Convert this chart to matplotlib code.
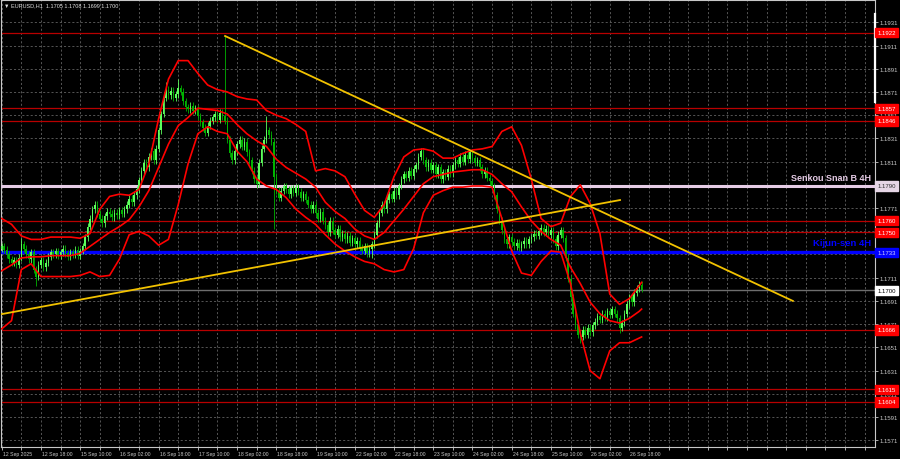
import numpy as np
import matplotlib.pyplot as plt
from matplotlib import transforms

# hourly closes, EURUSD H1, 12 Sep 02:00 .. 26 Sep 23:00
closes = [
    # 12 Sep
    1.1738, 1.1735, 1.1731, 1.1727, 1.1724, 1.1726, 1.1722, 1.1728, 1.1740, 1.1736, 1.1731,
    1.1727, 1.1733, 1.1718, 1.1712, 1.1722, 1.1726, 1.1720, 1.1724, 1.1729, 1.1733, 1.1731,
    # 15 Sep
    1.1734, 1.1730, 1.1733, 1.1736, 1.1732, 1.1729, 1.1733, 1.1731, 1.1735, 1.1730, 1.1734, 1.1738,
    1.1746, 1.1755, 1.1762, 1.1770, 1.1774, 1.1766, 1.1762, 1.1758, 1.1764, 1.1768, 1.1766, 1.1763,
    # 16 Sep
    1.1767, 1.1765, 1.1769, 1.1766, 1.1770, 1.1774, 1.1779, 1.1776, 1.1782, 1.1787, 1.1795, 1.1803,
    1.1810, 1.1806, 1.1815, 1.1820, 1.1812, 1.1822, 1.1838, 1.1852, 1.1866, 1.1873, 1.1868, 1.1872,
    # 17 Sep
    1.1866, 1.1869, 1.1874, 1.1871, 1.1863, 1.1858, 1.1856, 1.1859, 1.1855, 1.1857, 1.1850, 1.1845,
    1.1840, 1.1836, 1.1842, 1.1846, 1.1849, 1.1852, 1.1847, 1.1853, 1.1850, 1.1846, 1.1830, 1.1818,
    # 18 Sep
    1.1812, 1.1820, 1.1826, 1.1830, 1.1824, 1.1828, 1.1819, 1.1812, 1.1803, 1.1796, 1.1792, 1.1810,
    1.1822, 1.1830, 1.1838, 1.1834, 1.1828, 1.1798, 1.1786, 1.1780, 1.1786, 1.1790, 1.1787, 1.1783,
    # 19 Sep
    1.1788, 1.1784, 1.1789, 1.1785, 1.1780, 1.1783, 1.1778, 1.1774, 1.1770, 1.1774, 1.1767, 1.1762,
    1.1768, 1.1760, 1.1756, 1.1750, 1.1760, 1.1752, 1.1748, 1.1753, 1.1746, 1.1749, 1.1744, 1.1747,
    # 22 Sep
    1.1741, 1.1745, 1.1740, 1.1743, 1.1737, 1.1734, 1.1738, 1.1732, 1.1736, 1.1740, 1.1748, 1.1758,
    1.1767, 1.1774, 1.1770, 1.1778, 1.1783, 1.1779, 1.1786, 1.1782, 1.1790, 1.1796, 1.1800, 1.1797,
    # 23 Sep
    1.1803, 1.1799, 1.1805, 1.1808, 1.1815, 1.1820, 1.1812, 1.1806, 1.1810, 1.1804, 1.1808, 1.1800,
    1.1806, 1.1796, 1.1802, 1.1798, 1.1805, 1.1801, 1.1808, 1.1812, 1.1809, 1.1815, 1.1811, 1.1817,
    # 24 Sep
    1.1813, 1.1819, 1.1814, 1.1810, 1.1812, 1.1806, 1.1800, 1.1803, 1.1797, 1.1794, 1.1790, 1.1782,
    1.1770, 1.1760, 1.1752, 1.1744, 1.1740, 1.1746, 1.1742, 1.1738, 1.1741, 1.1737, 1.1740, 1.1743,
    # 25 Sep
    1.1740, 1.1744, 1.1746, 1.1749, 1.1747, 1.1751, 1.1754, 1.1750, 1.1753, 1.1748, 1.1752, 1.1744,
    1.1738, 1.1748, 1.1752, 1.1745, 1.1728, 1.1710, 1.1694, 1.1680, 1.1670, 1.1662, 1.1660, 1.1666,
    # 26 Sep
    1.1662, 1.1668, 1.1664, 1.1670, 1.1673, 1.1678, 1.1675, 1.1680, 1.1677, 1.1682, 1.1679, 1.1684,
    1.1680, 1.1676, 1.1668, 1.1672, 1.1680, 1.1688, 1.1694, 1.1690, 1.1698, 1.1702, 1.1705, 1.1700,
]
first_open = 1.1736
# long wicks seen on the chart
high_marks = {8: 1.1745, 67: 1.1880, 72: 1.1882, 91: 1.1920, 108: 1.1850,
              171: 1.1823, 191: 1.1821, 261: 1.1708}
low_marks = {14: 1.1704, 104: 1.1788, 111: 1.1753, 151: 1.1728, 236: 1.1655,
             252: 1.1663, 261: 1.1699}

# bollinger bands read every 4 bars (+ last bar)
bb_upper = [1.1762, 1.1757, 1.1747, 1.1744, 1.1744, 1.1746, 1.1746, 1.1746, 1.1745, 1.1749,
            1.1770, 1.1781, 1.1783, 1.1782, 1.1787, 1.1809, 1.1848, 1.1882, 1.1898, 1.1898,
            1.1887, 1.1877, 1.1873, 1.1871, 1.1867, 1.1865, 1.1864, 1.1855, 1.1851, 1.1848,
            1.1843, 1.1837, 1.1803, 1.1805, 1.1803, 1.1798, 1.1783, 1.1769, 1.1763, 1.1774,
            1.1798, 1.1815, 1.1821, 1.1822, 1.1820, 1.1814, 1.1814, 1.1818, 1.1821, 1.1822,
            1.1824, 1.1837, 1.1841, 1.1825, 1.1796, 1.1762, 1.1755, 1.1758, 1.1781, 1.1791,
            1.1775, 1.1749, 1.1697, 1.1688, 1.1693, 1.1704, 1.1707]
bb_middle = [1.1717, 1.1722, 1.1728, 1.1729, 1.1729, 1.1730, 1.1730, 1.1730, 1.1732, 1.1738,
             1.1744, 1.1750, 1.1755, 1.1761, 1.1772, 1.1786, 1.1806, 1.1826, 1.1842, 1.1849,
             1.1857, 1.1856, 1.1855, 1.1852, 1.1843, 1.1835, 1.1829, 1.1824, 1.1813, 1.1806,
             1.1801, 1.1796, 1.1789, 1.1776, 1.1768, 1.1762, 1.1753, 1.1747, 1.1744, 1.1750,
             1.1760, 1.1770, 1.1781, 1.1792, 1.1798, 1.1800, 1.1802, 1.1803, 1.1804, 1.1804,
             1.1800, 1.1792, 1.1785, 1.1772, 1.1760, 1.1751, 1.1744, 1.1739, 1.1720, 1.1706,
             1.1690, 1.1680, 1.1674, 1.1672, 1.1676, 1.1682, 1.1684]
bb_lower = [1.1667, 1.1674, 1.1718, 1.1723, 1.1712, 1.1712, 1.1712, 1.1712, 1.1713, 1.1716,
            1.1712, 1.1713, 1.1727, 1.1748, 1.1751, 1.1747, 1.1739, 1.1744, 1.1774, 1.1809,
            1.1835, 1.1841, 1.1837, 1.1835, 1.1820, 1.1811, 1.1796, 1.1790, 1.1787, 1.1780,
            1.1770, 1.1763, 1.1757, 1.1748, 1.1740, 1.1734, 1.1729, 1.1725, 1.1723, 1.1718,
            1.1716, 1.1718, 1.1736, 1.1767, 1.1782, 1.1786, 1.1789, 1.1789, 1.1790, 1.1790,
            1.1789, 1.1762, 1.1734, 1.1715, 1.1713, 1.1725, 1.1734, 1.1733, 1.1706, 1.1663,
            1.1631, 1.1624, 1.1648, 1.1655, 1.1655, 1.1659, 1.1660]

red_levels = [1.1922, 1.1857, 1.1846, 1.1760, 1.1750, 1.1666, 1.1615, 1.1604]
senkou_b = 1.1790
kijun = 1.1733
last_price = 1.1700

# trend lines: (bar, price) endpoints
down_line = [(91.1, 1.19192), (322.7, 1.16910)]
up_line = [(0.1, 1.16797), (252.2, 1.17779)]

time_labels = ['12 Sep 2025', '12 Sep 18:00', '15 Sep 10:00', '16 Sep 02:00', '16 Sep 18:00',
               '17 Sep 10:00', '18 Sep 02:00', '18 Sep 18:00', '19 Sep 10:00', '22 Sep 02:00',
               '22 Sep 18:00', '23 Sep 10:00', '24 Sep 02:00', '24 Sep 18:00', '25 Sep 10:00',
               '26 Sep 02:00', '26 Sep 18:00']

plt.rcParams['font.family'] = ['Liberation Sans', 'DejaVu Sans']

fig = plt.figure(figsize=(9, 4.6), dpi=100, facecolor='black')
ax = fig.add_axes([1/900, 12/460, 874/900, 447/460])
ax.set_facecolor('black')
ax.set_xlim(-0.29, 356.2)
ax.set_ylim(1.15652, 1.19502)

# grid
grid_prices = np.arange(1.1571, 1.1940, 0.0020)
for p in grid_prices:
    ax.axhline(p, color='#626262', lw=0.6, ls=(0, (2.5, 2.5)), zorder=1)
for v in range(0, 357, 8):
    ax.axvline(v, color='#626262', lw=0.6, ls=(0, (2.5, 2.5)), zorder=1)

# horizontal levels
for lv in red_levels:
    ax.axhline(lv, color='#b80000', lw=0.9, zorder=2)
ax.axhline(last_price, color='#6e6e6e', lw=1.0, zorder=2)
ax.axhline(senkou_b, color='#e6cce6', lw=2.2, zorder=3)
ax.axhline(kijun, color='#0000ff', lw=2.4, zorder=3)

# candles
n = len(closes)
idx = np.arange(n)
opens = [first_open] + closes[:-1]
highs = [max(o, c) + 0.0003 for o, c in zip(opens, closes)]
lows = [min(o, c) - 0.0003 for o, c in zip(opens, closes)]
for k, v in high_marks.items():
    highs[k] = v
for k, v in low_marks.items():
    lows[k] = v
colors = ['#5cff5c' if c >= o else '#00b400' for o, c in zip(opens, closes)]
bottoms = [min(o, c) for o, c in zip(opens, closes)]
heights = [max(abs(c - o), 0.00006) for o, c in zip(opens, closes)]
ax.vlines(idx, lows, highs, colors=colors, lw=0.6, zorder=4)
ax.bar(idx, heights, bottom=bottoms, width=0.62, color=colors, lw=0, zorder=4)

# bollinger bands
bb_x = np.r_[np.arange(0, n - 1, 4), n - 1]
for band in (bb_upper, bb_middle, bb_lower):
    ax.plot(bb_x, band, color='#ff0000', lw=1.2, zorder=5, solid_joinstyle='round')

# trend lines
for line in (down_line, up_line):
    xs, ys = zip(*line)
    ax.plot(xs, ys, color='#f2c200', lw=1.3, zorder=6)

# frame
for s in ax.spines.values():
    s.set_color('#c8c8c8')
    s.set_linewidth(0.8)

# price scale
ax.yaxis.tick_right()
boxed = red_levels + [senkou_b, kijun, last_price]
shown = [p for p in grid_prices if min(abs(p - b) for b in boxed) > 0.0003]
ax.set_yticks(shown)
ax.set_yticklabels([f'{p:.4f}' for p in shown])
ax.tick_params(axis='y', colors='#c8c8c8', labelsize=4.3, length=2, width=0.6, pad=1.5)

# time scale
ax.set_xticks(range(0, 357, 8))
xt = []
for k in range(0, 357, 8):
    j = k // 16
    xt.append(time_labels[j] if k % 16 == 0 and j < len(time_labels) else '')
ax.set_xticklabels(xt, ha='left')
ax.tick_params(axis='x', colors='#c8c8c8', labelsize=3.7, length=2, width=0.6, pad=0.8)
for lab in ax.get_xticklabels():
    lab.set_transform(lab.get_transform() + transforms.ScaledTranslation(1/100, 0, fig.dpi_scale_trans))

# level boxes on the price scale
blend = transforms.blended_transform_factory(ax.transAxes, ax.transData)
trans = blend + transforms.ScaledTranslation(2.5/100, 0, fig.dpi_scale_trans)
def price_box(p, fc, tc):
    ax.text(1.0, p, f'{p:.4f}', transform=trans, fontsize=4.3, color=tc, ha='left', va='center',
            clip_on=False, zorder=10,
            bbox=dict(boxstyle='square,pad=0.35', fc=fc, ec=fc))
for lv in red_levels:
    price_box(lv, '#ff0000', '#ffffff')
price_box(senkou_b, '#e6d6e6', '#303030')
price_box(kijun, '#0000ff', '#d0d0ff')
price_box(last_price, '#ffffff', '#000000')

# labels of the ichimoku lines
ax.text(0.995, senkou_b + 0.0007, 'Senkou Snan B 4H', transform=blend,
        ha='right', va='center', fontsize=6.5, fontweight='bold', color='#e6cce6', zorder=8)
ax.text(0.995, kijun + 0.0008, 'Kijun-sen 4H', transform=blend,
        ha='right', va='center', fontsize=6.8, fontweight='bold', color='#0000ff', zorder=8)

# chart shift marker on the right border
ax.plot([1.0, 1.0], [1.1938, 1.1862], transform=blend,
        color='white', lw=1.6, clip_on=False, zorder=9)

fig.text(4/900, 1 - 6/460, '\u25bc EURUSD,H1  1.1705 1.1708 1.1699 1.1700', color='#e0e0e0',
         fontsize=4, ha='left', va='center')

fig.savefig('out.png', dpi=100, facecolor='black')
